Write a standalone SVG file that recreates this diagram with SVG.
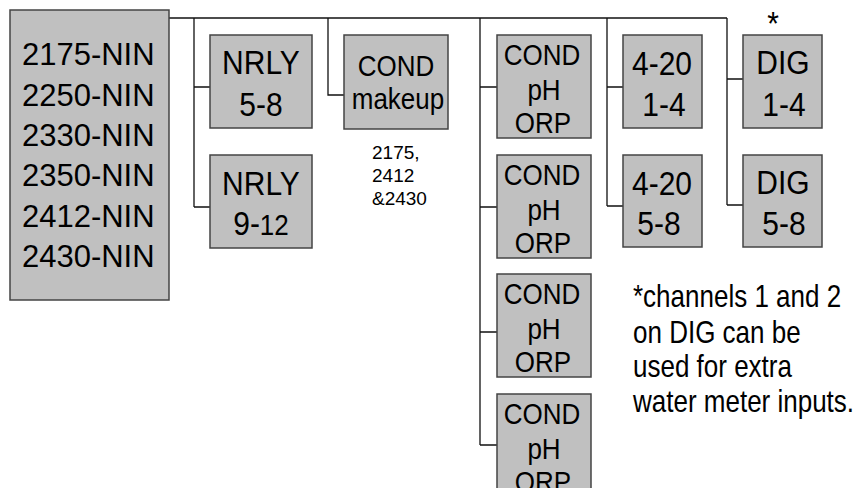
<svg xmlns="http://www.w3.org/2000/svg" width="856" height="488" viewBox="0 0 856 488">
<style>
.box{fill:#c0c0c0;stroke:#444;stroke-width:1.5}
.ln{fill:none;stroke:#111;stroke-width:1.3}
text{font-family:"Liberation Sans",Arial,sans-serif;fill:#000;transform-box:fill-box;transform-origin:center}
.big{font-size:31px;transform:scaleY(1.03)}
.mid{font-size:30px;text-anchor:middle;transform:scaleY(1.1)}
.cond{font-size:26px;text-anchor:middle;transform:scaleY(1.15)}
.note{font-size:26px;transform:scaleY(1.22)}
.small{font-size:19px}
</style>
<rect width="856" height="488" fill="#fff"/>
<g id="connectors">
<path class="ln" d="M169,18H727"/>
<path class="ln" d="M194,18V207M194,87H210M194,207H210"/>
<path class="ln" d="M328,18V95H344"/>
<path class="ln" d="M480,18V445M480,87H497M480,207H497M480,332H497M480,445H497"/>
<path class="ln" d="M607,18V206M607,87H623M607,206H623"/>
<path class="ln" d="M727,18V205M727,79H743M727,205H743"/>
</g>
<g id="main">
<rect class="box" x="10" y="10" width="159" height="290"/>
<text class="big" x="22" y="65">2175-NIN</text>
<text class="big" x="22" y="105.3">2250-NIN</text>
<text class="big" x="22" y="145.6">2330-NIN</text>
<text class="big" x="22" y="185.9">2350-NIN</text>
<text class="big" x="22" y="226.2">2412-NIN</text>
<text class="big" x="22" y="266.5">2430-NIN</text>
</g>
<g id="nrly58">
<rect class="box" x="210" y="35" width="102" height="93"/>
<text class="mid" x="261" y="73">NRLY</text>
<text class="mid" x="261" y="114.5">5-8</text>
</g>
<g id="nrly912">
<rect class="box" x="210" y="155" width="102" height="93"/>
<text class="mid" x="261" y="194">NRLY</text>
<text class="mid" x="261" y="234">9-<tspan font-size="26">12</tspan></text>
</g>
<g id="condmakeup">
<rect class="box" x="344" y="35" width="104" height="94"/>
<text class="cond" x="396" y="75">COND</text>
<text class="cond" x="398" y="108">makeup</text>
</g>
<g id="modelnote">
<text class="small" x="372" y="159">2175,</text>
<text class="small" x="372" y="182">2412</text>
<text class="small" x="372" y="205">&amp;2430</text>
</g>
<g id="cond1">
<rect class="box" x="497" y="35" width="94" height="103"/>
<text class="cond" x="542" y="64">COND</text>
<text class="cond" x="544" y="99">pH</text>
<text class="cond" x="543" y="131.5">ORP</text>
</g>
<g id="cond2">
<rect class="box" x="497" y="155" width="94" height="103"/>
<text class="cond" x="542" y="184">COND</text>
<text class="cond" x="544" y="219">pH</text>
<text class="cond" x="543" y="251.5">ORP</text>
</g>
<g id="cond3">
<rect class="box" x="497" y="274" width="94" height="103"/>
<text class="cond" x="542" y="303">COND</text>
<text class="cond" x="544" y="338">pH</text>
<text class="cond" x="543" y="370.5">ORP</text>
</g>
<g id="cond4">
<rect class="box" x="497" y="394" width="94" height="103"/>
<text class="cond" x="542" y="423">COND</text>
<text class="cond" x="544" y="458">pH</text>
<text class="cond" x="543" y="490.5">ORP</text>
</g>
<g id="ai14">
<rect class="box" x="623" y="35" width="79" height="93"/>
<text class="mid" x="662" y="74">4-20</text>
<text class="mid" x="664" y="114.5">1-4</text>
</g>
<g id="ai58">
<rect class="box" x="623" y="155" width="79" height="92"/>
<text class="mid" x="662" y="194">4-20</text>
<text class="mid" x="659" y="233.5">5-8</text>
</g>
<g id="dig14">
<rect class="box" x="743" y="35" width="79" height="93"/>
<text class="mid" x="783" y="73">DIG</text>
<text class="mid" x="784" y="114.5">1-4</text>
<text class="mid" x="773" y="34" font-size="22">*</text>
</g>
<g id="dig58">
<rect class="box" x="743" y="155" width="79" height="92"/>
<text class="mid" x="783" y="193">DIG</text>
<text class="mid" x="784" y="233.5">5-8</text>
</g>
<g id="footnote">
<text class="note" x="633" y="305.5">*channels 1 and 2</text>
<text class="note" x="633" y="341.5">on DIG can be</text>
<text class="note" x="633" y="375.5">used for extra</text>
<text class="note" x="633" y="410.5">water meter inputs.</text>
</g>
</svg>
